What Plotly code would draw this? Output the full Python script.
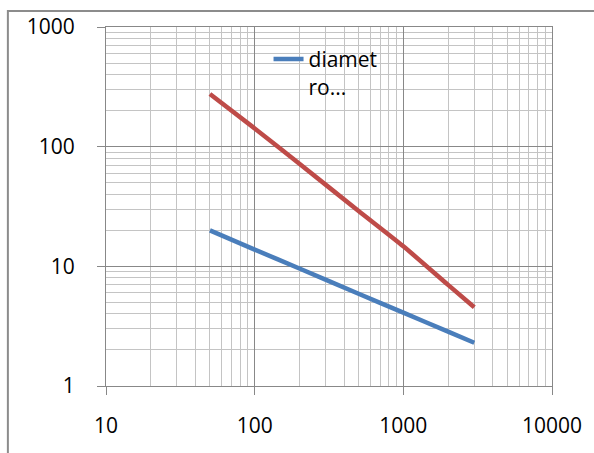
import plotly.graph_objects as go

# Sample positions shared by both curves
x_vals = [50, 100, 200, 500, 1000, 2000, 3000]
# Blue curve (diameter)
blue_vals = [20, 13.8, 9.6, 5.9, 4.1, 2.85, 2.3]
# Red curve
red_vals = [275, 142, 72, 29, 14.7, 7.0, 4.55]

x_ticks = [10, 100, 1000, 10000]
y_ticks = [1, 10, 100, 1000]

W, H = 594, 453
L, R, T, B = 106, 38, 26, 67
pw, ph = W - L - R, H - T - B

FONT = "Open Sans"
MAJOR = "#888888"
MINOR = "#c4c4c4"

fig = go.Figure()
fig.add_trace(go.Scatter(
    x=x_vals, y=blue_vals, mode="lines", name="diamet<br>ro...",
    line=dict(color="#4a7ebb", width=4.5, shape="spline", smoothing=0.6),
))
fig.add_trace(go.Scatter(
    x=x_vals, y=red_vals, mode="lines", name="red", showlegend=False,
    line=dict(color="#be4b48", width=4.5, shape="spline", smoothing=0.6),
))

axis_common = dict(
    type="log",
    showgrid=True, gridcolor=MAJOR, gridwidth=1,
    showline=True, linecolor=MAJOR, linewidth=1, mirror=True,
    ticks="outside", ticklen=8, tickcolor=MAJOR,
    tickfont=dict(family=FONT, size=21, color="#000000"),
    minor=dict(dtick="D1", showgrid=True, gridcolor=MINOR, gridwidth=1, ticks=""),
    zeroline=False,
)

fig.update_xaxes(
    range=[1, 4], tickvals=x_ticks, ticktext=[str(v) for v in x_ticks],
    ticklabelstandoff=13, **axis_common,
)
fig.update_yaxes(
    range=[0, 3], tickvals=y_ticks, ticktext=[str(v) for v in y_ticks],
    ticklabelstandoff=18, **axis_common,
)

# outer chart frame
def px_x(p):
    return (p - L) / pw

def px_y(p):
    return (H - B - p) / ph

fig.add_shape(
    type="rect", xref="paper", yref="paper",
    x0=px_x(7), x1=px_x(620), y0=px_y(10), y1=px_y(480),
    line=dict(color="#8c8c8c", width=2), fillcolor="rgba(0,0,0,0)",
    layer="below",
)

fig.update_layout(
    width=W, height=H,
    margin=dict(l=L, r=R, t=T, b=B),
    paper_bgcolor="white", plot_bgcolor="white",
    font=dict(family=FONT, size=21, color="#000000"),
    showlegend=True,
    legend=dict(
        x=px_x(270), y=px_y(38), xanchor="left", yanchor="top",
        bgcolor="rgba(0,0,0,0)", borderwidth=0,
        font=dict(family=FONT, size=21, color="#000000"),
        valign="top", tracegroupgap=0,
    ),
)

fig.write_html("out.html")
